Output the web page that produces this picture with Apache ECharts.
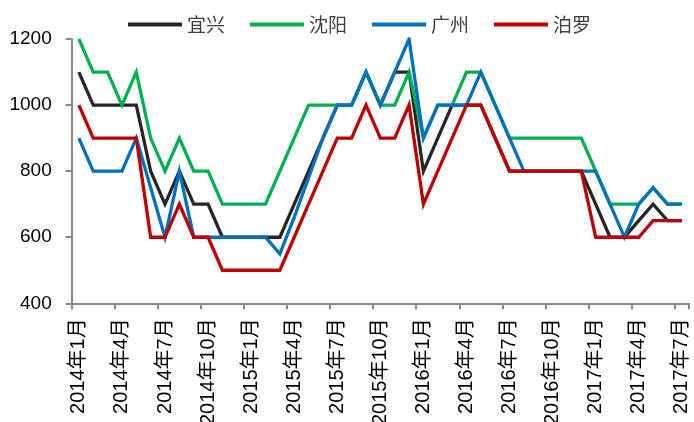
<!DOCTYPE html>
<html>
<head>
<meta charset="utf-8">
<script src="https://cdn.jsdelivr.net/npm/echarts@6/dist/echarts.min.js"></script>
<style>
html,body{margin:0;padding:0;background:#fff;}
#chart{width:694px;height:422px;}
</style>
</head>
<body>
<div id="chart"></div>
<script>
const categories = [
  '2014年1月','2014年2月','2014年3月','2014年4月','2014年5月','2014年6月','2014年7月','2014年8月','2014年9月','2014年10月','2014年11月','2014年12月',
  '2015年1月','2015年2月','2015年3月','2015年4月','2015年5月','2015年6月','2015年7月','2015年8月','2015年9月','2015年10月','2015年11月','2015年12月',
  '2016年1月','2016年2月','2016年3月','2016年4月','2016年5月','2016年6月','2016年7月','2016年8月','2016年9月','2016年10月','2016年11月','2016年12月',
  '2017年1月','2017年2月','2017年3月','2017年4月','2017年5月','2017年6月','2017年7月'
];
const seriesNames = ['宜兴','沈阳','广州','泊罗'];
const yixing = [1100,1000,1000,1000,1000,800,700,800,700,700,600,600,600,600,600,700,800,900,1000,1000,1100,1000,1100,1100,800,900,1000,1000,1000,900,800,800,800,800,800,800,700,600,600,650,700,650,650];
const shenyang = [1200,1100,1100,1000,1100,900,800,900,800,800,700,700,700,700,800,900,1000,1000,1000,1000,1100,1000,1000,1100,900,1000,1000,1100,1100,1000,900,900,900,900,900,900,800,700,700,700,750,700,700];
const guangzhou = [900,800,800,800,900,750,600,800,600,600,600,600,600,600,550,660,780,900,1000,1000,1100,1000,1100,1200,900,1000,1000,1000,1100,1000,900,800,800,800,800,800,800,700,600,700,750,700,700];
const boluo = [1000,900,900,900,900,600,600,700,600,600,500,500,500,500,500,600,700,800,900,900,1000,900,900,1000,700,800,900,1000,1000,900,800,800,800,800,800,800,600,600,600,600,650,650,650];
const yTicks = {min:400, max:1200, interval:200};

const colors = ['#262626','#00B050','#0070C0','#C00000'];
const dataSets = [yixing, shenyang, guangzhou, boluo];

const chart = echarts.init(document.getElementById('chart'), null, {renderer:'canvas'});
chart.setOption({
  animation:false,
  backgroundColor:'#fff',
  legend:{
    top:10,
    left:123,
    itemWidth:54,
    itemHeight:20,
    itemGap:25,
    textStyle:{fontFamily:'"Noto Sans CJK SC", sans-serif', fontSize:19, color:'#404040', padding:[0,0,0,0]},
    data:seriesNames.map((n,i)=>({name:n, icon:'path://M0,0 L54,0 L54,4 L0,4 Z', itemStyle:{color:colors[i]}}))
  },
  grid:{left:71.7, right:5, top:39, bottom:118.7, containLabel:false, outerBoundsMode:'none'},
  xAxis:{
    type:'category',
    data:categories,
    boundaryGap:true,
    axisLine:{lineStyle:{color:'#898989', width:2}},
    axisTick:{show:true, interval:2, length:6, lineStyle:{color:'#898989', width:2}},
    axisLabel:{interval:2, rotate:90, margin:15, fontSize:20, color:'#000',
      fontFamily:'"Liberation Sans", "Noto Sans CJK SC", sans-serif'},
    splitLine:{show:false}
  },
  yAxis:{
    type:'value',
    min:yTicks.min, max:yTicks.max, interval:yTicks.interval,
    axisLine:{show:true, lineStyle:{color:'#898989', width:2}},
    axisTick:{show:true, length:6, lineStyle:{color:'#898989', width:2}},
    axisLabel:{margin:20, fontSize:19, color:'#000', fontFamily:'"Liberation Sans", sans-serif',
      formatter:function(v){return String(v);}},
    splitLine:{show:false}
  },
  series:dataSets.map((d,i)=>({
    name:seriesNames[i],
    type:'line',
    data:d,
    symbol:'none',
    lineStyle:{color:colors[i], width:3.3, join:'miter'},
    itemStyle:{color:colors[i]},
    z:2+i
  }))
});
</script>
</body>
</html>
